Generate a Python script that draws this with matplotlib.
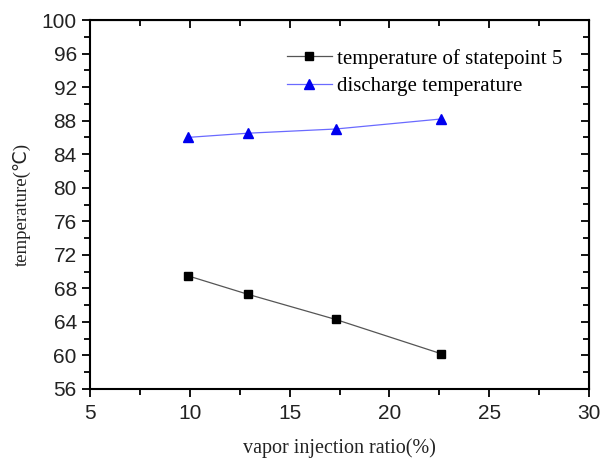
import matplotlib
matplotlib.use("Agg")
from matplotlib import pyplot as plt
from matplotlib.ticker import MultipleLocator

ratio = [9.9, 12.9, 17.3, 22.6]
t_state5 = [69.5, 67.3, 64.3, 60.2]
t_discharge = [86.0, 86.5, 87.0, 88.2]

fig = plt.figure(figsize=(6.02, 4.59), dpi=100)
ax = fig.add_axes([90 / 602, 1 - 389 / 459, 499 / 602, 369 / 459])

ax.plot(ratio, t_state5, color="#555555", lw=0.9, marker="s", ms=6,
        mfc="black", mec="black", label="temperature of statepoint 5")
ax.plot(ratio, t_discharge, color="#6a6aff", lw=0.9, marker="^", ms=7,
        mfc="#0000ee", mec="#0000ee", label="discharge temperature")

ax.set_xlim(5, 30)
ax.set_ylim(56, 100)
ax.xaxis.set_major_locator(MultipleLocator(5))
ax.xaxis.set_minor_locator(MultipleLocator(2.5))
ax.yaxis.set_major_locator(MultipleLocator(4))
ax.yaxis.set_minor_locator(MultipleLocator(2))

for s in ax.spines.values():
    s.set_linewidth(1.5)

ax.tick_params(which="both", direction="out", width=1.3, top=False, right=False,
               labelsize=15, labelfontfamily="Liberation Sans", labelcolor="#222222")
ax.tick_params(which="major", length=6)
ax.tick_params(which="minor", length=4)
ax.tick_params(axis="x", which="major", pad=5)

# inward ticks on top and right
ax2 = ax.secondary_xaxis("top")
ax2.set_xticks([5, 10, 15, 20, 25, 30])
ax2.xaxis.set_minor_locator(MultipleLocator(2.5))
ax2.tick_params(which="both", direction="in", width=1.3, labeltop=False)
ax2.tick_params(which="major", length=6)
ax2.tick_params(which="minor", length=4)
ax3 = ax.secondary_yaxis("right")
ax3.yaxis.set_major_locator(MultipleLocator(4))
ax3.yaxis.set_minor_locator(MultipleLocator(2))
ax3.tick_params(which="both", direction="in", width=1.3, labelright=False)
ax3.tick_params(which="major", length=6)
ax3.tick_params(which="minor", length=4)

ax.set_xlabel("vapor injection ratio(%)", fontfamily="Liberation Serif", fontsize=14.5,
              labelpad=11, color="#222222")
ax.set_ylabel("temperature(\u2103)", fontfamily=["Liberation Serif", "DejaVu Sans"],
              fontsize=13.5, labelpad=8, color="#222222")

ax.legend(loc="upper left", bbox_to_anchor=(0.378, 0.945), frameon=False,
          prop={"family": "Liberation Serif", "size": 15}, handlelength=2.16,
          handletextpad=0.25, labelspacing=0.38, borderaxespad=0)

fig.savefig("out.png", dpi=100)
